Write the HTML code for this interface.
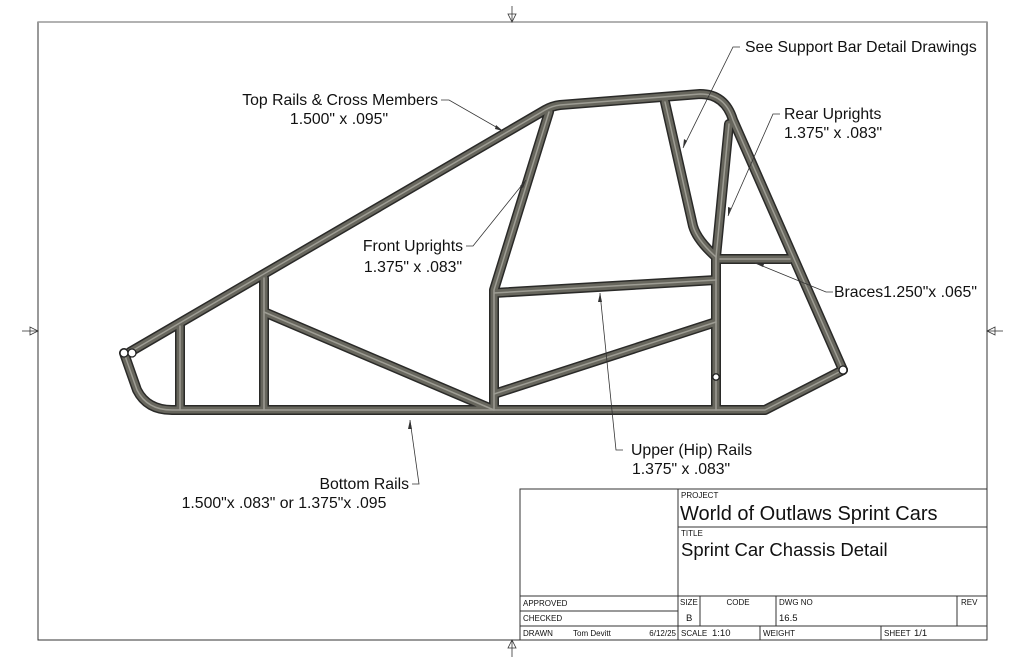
<!DOCTYPE html>
<html><head><meta charset="utf-8"><style>
html,body{margin:0;padding:0;background:#fff}
svg{display:block}
text{font-family:"Liberation Sans",Arial,sans-serif;fill:#111}
</style></head><body>
<svg width="1024" height="663" viewBox="0 0 1024 663" xmlns="http://www.w3.org/2000/svg">
<defs>
<g id="tubes">
<path d="M124,353 L137,390 Q147,410 172,410 L765,410 L843,370"/>
<path d="M130,352 L545,110 Q552,106 560,105 L700,94 Q725,94 733,120 L843,370"/>
<path d="M549,112 L494,290 L494,410"/>
<path d="M494,293 L716,280"/>
<path d="M494,394 L716,322"/>
<path d="M264,312 L494,410"/>
<path d="M180,326 L180,410"/>
<path d="M264,278 L264,410"/>
<path d="M716,257 L716,410"/>
<path d="M716,257 L729,124"/>
<path d="M665,102 L693,226 Q697,240 716,257"/>
<path d="M720,259 L790,259"/>
</g>
</defs>
<rect x="38" y="22" width="949" height="618" fill="none" stroke="#333" stroke-width="1"/>
<line x1="38" y1="22" x2="987" y2="22" stroke="#999" stroke-width="1.5"/>
<g fill="none" stroke="#333" stroke-width="0.8">
<line x1="512" y1="6" x2="512" y2="22"/><path d="M508,14 L516,14 L512,22 Z"/>
<line x1="512" y1="640" x2="512" y2="657"/><path d="M508,648 L516,648 L512,640 Z"/>
<line x1="22" y1="331" x2="38" y2="331"/><path d="M30,327 L30,335 L38,331 Z"/>
<line x1="987" y1="331" x2="1003" y2="331"/><path d="M995,327 L995,335 L987,331 Z"/>
</g>
<g fill="none" stroke-linecap="round" stroke-linejoin="round">
<use href="#tubes" stroke="#2a2a28" stroke-width="10"/>
<use href="#tubes" stroke="#67665d" stroke-width="7"/>
<use href="#tubes" stroke="#9d9c93" stroke-width="1.5"/>
</g>
<g fill="#fff" stroke="#222" stroke-width="1.3">
<circle cx="124" cy="353" r="4"/><circle cx="132" cy="353" r="4"/>
<circle cx="843" cy="370" r="4"/><circle cx="716" cy="377" r="3.2"/>
</g>
<g fill="none" stroke="#333" stroke-width="0.8">
<polyline points="441,100 449,100 503,131"/>
<polyline points="466,246 473,246 526,180"/>
<polyline points="740,47 733,47 683,148"/>
<polyline points="780,114 773,114 728,216"/>
<polyline points="833,292 826,292 755,263"/>
<polyline points="623,450 616,450 600,293"/>
<polyline points="412,484 419,484 410,420"/>
</g>
<g fill="#333">
<path d="M503,131 L496,125 L495,129 Z"/>
<path d="M526,180 L520,186 L523,188 Z"/>
<path d="M683,148 L684,139 L687,141 Z"/>
<path d="M728,216 L728,207 L731,208 Z"/>
<path d="M755,263 L764,264 L763,267 Z"/>
<path d="M600,293 L598,302 L602,302 Z"/>
<path d="M410,420 L408,429 L412,429 Z"/>
</g>
<g font-size="15.8">
<text x="438" y="105" text-anchor="end">Top Rails &amp; Cross Members</text>
<text x="339" y="124" text-anchor="middle">1.500" x .095"</text>
<text x="463" y="251" text-anchor="end">Front Uprights</text>
<text x="413" y="272" text-anchor="middle">1.375" x .083"</text>
<text x="745" y="52">See Support Bar Detail Drawings</text>
<text x="784" y="119">Rear Uprights</text>
<text x="784" y="138">1.375" x .083"</text>
<text x="834" y="297">Braces1.250"x .065"</text>
<text x="631" y="455">Upper (Hip) Rails</text>
<text x="632" y="474">1.375" x .083"</text>
<text x="409" y="489" text-anchor="end">Bottom Rails</text>
<text x="284" y="508" text-anchor="middle">1.500"x .083" or 1.375"x .095</text>
</g>
<g fill="none" stroke="#333" stroke-width="1">
<rect x="520" y="489" width="467" height="151"/>
<line x1="678" y1="489" x2="678" y2="640"/>
<line x1="678" y1="527" x2="987" y2="527"/>
<line x1="520" y1="596" x2="987" y2="596"/>
<line x1="520" y1="611" x2="678" y2="611"/>
<line x1="520" y1="626" x2="987" y2="626"/>
<line x1="700" y1="596" x2="700" y2="626"/>
<line x1="776" y1="596" x2="776" y2="626"/>
<line x1="957" y1="596" x2="957" y2="626"/>
<line x1="760" y1="626" x2="760" y2="640"/>
<line x1="881" y1="626" x2="881" y2="640"/>
</g>
<g font-size="8">
<text x="681" y="498">PROJECT</text>
<text x="681" y="536">TITLE</text>
<text x="523" y="606">APPROVED</text>
<text x="523" y="621">CHECKED</text>
<text x="523" y="636">DRAWN</text>
<text x="573" y="636">Tom Devitt</text>
<text x="676" y="636" text-anchor="end">6/12/25</text>
<text x="680" y="605">SIZE</text>
<text x="738" y="605" text-anchor="middle">CODE</text>
<text x="779" y="605">DWG NO</text>
<text x="961" y="605">REV</text>
<text x="681" y="636">SCALE</text>
<text x="763" y="636">WEIGHT</text>
<text x="884" y="636">SHEET</text>
</g>
<g font-size="9.5">
<text x="686" y="621">B</text>
<text x="779" y="621">16.5</text>
<text x="712" y="636">1:10</text>
<text x="914" y="636">1/1</text>
</g>
<text x="680" y="520" font-size="20">World of Outlaws Sprint Cars</text>
<text x="681" y="556" font-size="18.5">Sprint Car Chassis Detail</text>
</svg>
</body></html>
